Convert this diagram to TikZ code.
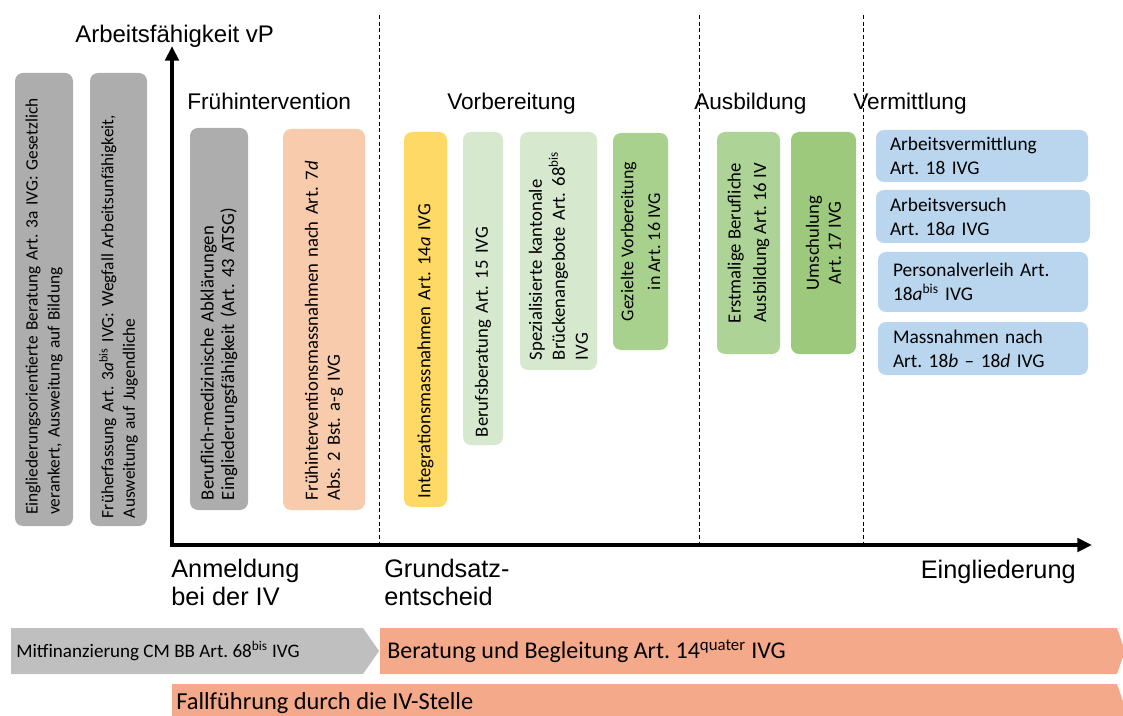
\documentclass[tikz,border=0pt]{standalone}
\usepackage{fontspec}
\setmainfont{Carlito}
\newfontfamily\arialfont{Liberation Sans}
\usetikzlibrary{arrows.meta}
\frenchspacing
\definecolor{boxgray}{HTML}{ADADAD}
\definecolor{bargray}{HTML}{BFBFBF}
\definecolor{peach}{HTML}{F8CBAD}
\definecolor{gold}{HTML}{FFD966}
\definecolor{lgreen}{HTML}{D6E9CF}
\definecolor{mgreen}{HTML}{A9D18E}
\definecolor{egreen}{HTML}{ADD396}
\definecolor{dgreen}{HTML}{9CC97C}
\definecolor{lblue}{HTML}{B9D6EE}
\definecolor{barorange}{HTML}{F4A98A}
\tikzset{
  vbox/.style={rotate=90, rounded corners=6pt, inner ysep=0pt, align=left},
  vboxc/.style={rotate=90, rounded corners=6pt, inner sep=0pt, align=center},
  hbox/.style={rounded corners=6pt, inner ysep=0pt, align=left, fill=lblue,
    font=\fontsize{14.5}{18}\selectfont},
  lbl/.style={inner sep=0pt, font=\arialfont\fontsize{17}{20}\selectfont},
  axis/.style={line width=3pt, {Triangle[length=11pt,width=10pt]}-{Triangle[length=11pt,width=10pt]}, line join=miter},
  phase/.style={dash pattern=on 3pt off 2pt, line width=0.75pt},
  bartext/.style={inner sep=0pt, anchor=base west},
}
\begin{document}
\begin{tikzpicture}[x=0.75pt,y=-0.75pt]
\useasboundingbox (0,0) rectangle (1123,716);
\clip (0,0) rectangle (1123,716);

% phase separators
\coordinate (d1t) at (379,15); \coordinate (d1b) at (379,545);
\coordinate (d2t) at (699,15); \coordinate (d2b) at (699,545);
\coordinate (d3t) at (863,15); \coordinate (d3b) at (863,545);
\draw[phase] (d1t) -- (d1b);
\draw[phase] (d2t) -- (d2b);
\draw[phase] (d3t) -- (d3b);

% axes
\coordinate (O) at (172,545);
\coordinate (Y) at (172,46);
\coordinate (X) at (1092,545);
\draw[axis] (Y) -- (O) -- (X);

% labels
\node[lbl, anchor=base west, font=\arialfont\fontsize{18}{21}\selectfont] (ylab) at (75,43) {Arbeitsfähigkeit vP};
\node[lbl, anchor=base west] (ph1) at (187,110) {Frühintervention};
\node[lbl, anchor=base west] (ph2) at (447,110) {Vorbereitung};
\node[lbl, anchor=base west] (ph3) at (694,110) {Ausbildung};
\node[lbl, anchor=base west] (ph4) at (853,110) {Vermittlung};
\node[lbl, anchor=base west, align=left, font=\arialfont\fontsize{19}{20.5}\selectfont] (anm) at (171,605) {Anmeldung\\bei der IV};
\node[lbl, anchor=base west, align=left, font=\arialfont\fontsize{19}{20.5}\selectfont] (gse) at (384,605) {Grundsatz-\\entscheid};
\node[lbl, anchor=base east, font=\arialfont\fontsize{19}{20.5}\selectfont] (ein) at (1076,578) {Eingliederung};

% left grey boxes
\node[vbox, fill=boxgray, minimum width=339.75pt, minimum height=43.5pt, inner xsep=8.25pt, text width=323pt,
  font=\fontsize{13}{16.5}\selectfont] (b1) at (44,299.5)
  {Eingliederungsorientierte Beratung Art. 3a IVG: Gesetzlich\\verankert, Ausweitung auf Bildung};
\node[vbox, fill=boxgray, minimum width=339.75pt, minimum height=42.75pt, inner xsep=6pt, text width=327.75pt,
  font=\fontsize{13}{16}\selectfont] (b2) at (118.5,299.5)
  {Früherfassung Art. 3\textit{a}\textsuperscript{bis} IVG: Wegfall Arbeitsunfähigkeit,\\Ausweitung auf Jugendliche};

% Frühintervention
\node[vbox, fill=boxgray, minimum width=286.5pt, minimum height=43.5pt, inner xsep=7.5pt, text width=271.5pt,
  font=\fontsize{14}{15.5}\selectfont] (b3) at (219,319)
  {Beruflich-medizinische Abklärungen\\Eingliederungsfähigkeit (Art. 43 ATSG)};
\node[vbox, fill=peach, minimum width=285.75pt, minimum height=61.5pt, inner xsep=7.5pt, text width=270.75pt,
  font=\fontsize{14}{16.5}\selectfont] (b4) at (324,319.5)
  {Frühinterventionsmassnahmen nach Art. 7\textit{d}\\Abs. 2 Bst. a-g IVG};

% Vorbereitung
\node[vbox, fill=gold, minimum width=281.25pt, minimum height=32.25pt, inner xsep=6.75pt, text width=267.75pt,
  font=\fontsize{14}{16.5}\selectfont] (b5) at (425.5,319.5)
  {Integrationsmassnahmen Art. 14\textit{a} IVG};
\node[vbox, fill=lgreen, minimum width=234.75pt, minimum height=30pt, inner xsep=6pt, text width=222.75pt,
  font=\fontsize{14}{16.5}\selectfont] (b6) at (483,288.5)
  {Berufsberatung Art. 15 IVG};
\node[vbox, fill=lgreen, minimum width=178.5pt, minimum height=57.75pt, inner xsep=7.5pt, text width=163.5pt,
  font=\fontsize{14}{17.25}\selectfont] (b7) at (558.5,251)
  {Spezialisierte kantonale\\Brückenangebote Art. 68\textsuperscript{bis}\\IVG};
\node[vboxc, fill=mgreen, minimum width=162.75pt, minimum height=41.25pt,
  font=\fontsize{13.5}{20}\selectfont] (b8) at (640.5,241.5)
  {Gezielte Vorbereitung\\in Art. 16 IVG};

% Ausbildung
\node[vboxc, fill=egreen, minimum width=166.5pt, minimum height=47.25pt,
  font=\fontsize{14}{19}\selectfont] (b9) at (748.5,243)
  {Erstmalige Berufliche\\Ausbildung Art. 16 IV};
\node[vboxc, fill=dgreen, minimum width=166.5pt, minimum height=48.75pt,
  font=\fontsize{14}{16.5}\selectfont] (b10) at (823.5,243)
  {Umschulung\\Art. 17 IVG};

% Vermittlung
\node[hbox, minimum width=159pt, minimum height=39pt, inner xsep=10.5pt, text width=138pt] (v1) at (982,156)
  {Arbeitsvermittlung\\Art. 18 IVG};
\node[hbox, minimum width=160.5pt, minimum height=39.75pt, inner xsep=10.5pt, text width=139.5pt] (v2) at (983,216.5)
  {Arbeitsversuch\\Art. 18\textit{a} IVG};
\node[hbox, minimum width=157.5pt, minimum height=45pt, inner xsep=11.25pt, text width=135pt] (v3) at (983,282)
  {Personalverleih Art.\\18\textit{a}\textsuperscript{bis} IVG};
\node[hbox, minimum width=157.5pt, minimum height=39.75pt, inner xsep=11.25pt, text width=135pt] (v4) at (983,348.5)
  {Massnahmen nach\\Art. 18\textit{b} – 18\textit{d} IVG};

% bottom bars
\path[fill=bargray] (11,628) -- (363,628) -- (379,651) -- (363,674) -- (11,674) -- cycle;
\path[fill=barorange] (380,628) -- (1117,628) -- (1125,651) -- (1117,674) -- (380,674) -- cycle;
\path[fill=barorange] (172,684) -- (1117,684) -- (1125,707) -- (1125,720) -- (172,720) -- cycle;
\node[bartext, font=\fontsize{14.3}{17}\selectfont] (mitfin) at (16,657.5)
  {Mitfinanzierung CM BB Art. 68\textsuperscript{bis} IVG};
\node[bartext, font=\fontsize{18}{21}\selectfont] (berat) at (387,658.5)
  {Beratung und Begleitung Art. 14\textsuperscript{quater} IVG};
\node[bartext, font=\fontsize{18.3}{21}\selectfont] (fall) at (176,709)
  {Fallführung durch die IV-Stelle};
\end{tikzpicture}
\end{document}
